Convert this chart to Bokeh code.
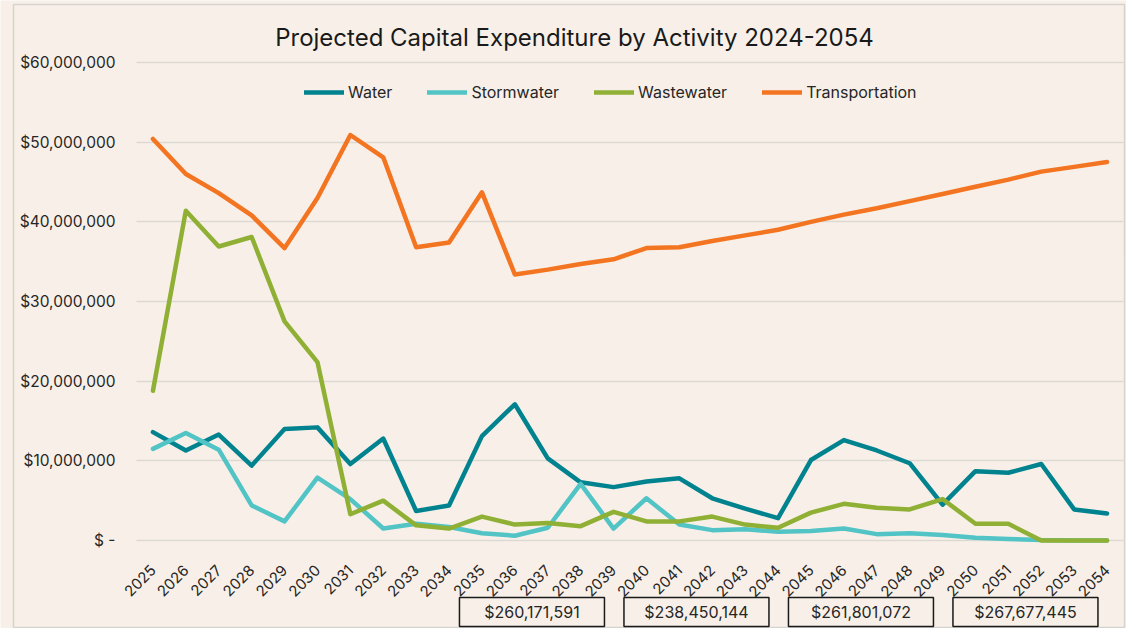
import math
from bokeh.plotting import figure
from bokeh.models import Range1d, FixedTicker, NumeralTickFormatter, Legend, LegendItem
from bokeh.core.properties import value
from bokeh.embed import file_html
from bokeh.resources import INLINE

# ---------------- data ----------------
years = [2025, 2026, 2027, 2028, 2029, 2030, 2031, 2032, 2033, 2034,
         2035, 2036, 2037, 2038, 2039, 2040, 2041, 2042, 2043, 2044,
         2045, 2046, 2047, 2048, 2049, 2050, 2051, 2052, 2053, 2054]

water = [13_600_000, 11_300_000, 13_300_000, 9_400_000, 14_000_000, 14_200_000, 9_600_000, 12_800_000, 3_700_000, 4_400_000,
         13_100_000, 17_100_000, 10_300_000, 7_300_000, 6_700_000, 7_400_000, 7_800_000, 5_300_000, 4_000_000, 2_800_000,
         10_100_000, 12_600_000, 11_300_000, 9_700_000, 4_500_000, 8_700_000, 8_500_000, 9_600_000, 3_900_000, 3_400_000]

stormwater = [11_500_000, 13_500_000, 11_400_000, 4_400_000, 2_400_000, 7_900_000, 5_200_000, 1_500_000, 2_100_000, 1_700_000,
              900_000, 600_000, 1_600_000, 7_100_000, 1_500_000, 5_300_000, 2_000_000, 1_300_000, 1_400_000, 1_100_000,
              1_200_000, 1_500_000, 800_000, 900_000, 700_000, 350_000, 200_000, 50_000, 0, 0]

wastewater = [18_800_000, 41_400_000, 36_900_000, 38_100_000, 27_500_000, 22_400_000, 3_300_000, 5_000_000, 1_900_000, 1_500_000,
              3_000_000, 2_000_000, 2_200_000, 1_800_000, 3_600_000, 2_400_000, 2_400_000, 3_000_000, 2_000_000, 1_600_000,
              3_500_000, 4_600_000, 4_100_000, 3_900_000, 5_200_000, 2_100_000, 2_100_000, 0, 0, 0]

transportation = [50_400_000, 46_000_000, 43_600_000, 40_800_000, 36_700_000, 43_000_000, 50_900_000, 48_100_000, 36_800_000, 37_400_000,
                  43_700_000, 33_400_000, 34_000_000, 34_700_000, 35_300_000, 36_700_000, 36_800_000, 37_600_000, 38_300_000, 39_000_000,
                  40_000_000, 40_900_000, 41_700_000, 42_600_000, 43_500_000, 44_400_000, 45_300_000, 46_300_000, 46_900_000, 47_500_000]

series_names = ["Water", "Stormwater", "Wastewater", "Transportation"]
series_colors = ["#00838F", "#52C4C5", "#8FB035", "#F37421"]

y_ticks = [0, 10_000_000, 20_000_000, 30_000_000, 40_000_000, 50_000_000, 60_000_000]

period_starts = [2035, 2040, 2045, 2050]
period_totals = ["$260,171,591", "$238,450,144", "$261,801,072", "$267,677,445"]

title_text = "Projected Capital Expenditure by Activity 2024-2054"

# ---------------- styling / layout ----------------
FONT = "Inter"
BG = "#F8F0E8"
TXT = "#262626"
W, H = 1126, 628
# plot-area edges in canvas pixels
PL, PR, PT, PB = 136, 1123, 62, 540

x0, x1 = years[0] - 0.5, years[-1] + 0.5
px_per_x = (PR - PL) / (x1 - x0)
px_per_y = (PB - PT) / (y_ticks[-1] - y_ticks[0])


def dx(cx):  # canvas x -> data x
    return x0 + (cx - PL) / px_per_x


def dy(cy):  # canvas y -> data y
    return y_ticks[0] + (PB - cy) / px_per_y


p = figure(width=W, height=H, output_backend="svg", toolbar_location=None,
           x_range=Range1d(dx(0), dx(W)), y_range=Range1d(dy(H), dy(0)),
           min_border=0, background_fill_color=BG, border_fill_color=BG)
p.outline_line_color = None

# outer chart border
p.rect(x=[dx((13 + W - 2) / 2)], y=[dy((4 + H - 1) / 2)], width=W - 2 - 13, height=H - 1 - 4,
       width_units="screen", height_units="screen", fill_alpha=0,
       line_color="#D6D3CF", line_width=1.5)

renderers = []
for vals, col in zip([water, stormwater, wastewater, transportation], series_colors):
    r = p.line(years, vals, line_color=col, line_width=4.5, line_join="round", line_cap="round")
    renderers.append(r)

# axes (fixed inside the full-canvas frame)
p.yaxis.fixed_location = x0
p.yaxis.ticker = FixedTicker(ticks=y_ticks)
p.yaxis.formatter = NumeralTickFormatter(format="$0,0")
p.yaxis.major_label_overrides = {0: "$ -"}
p.yaxis.axis_line_color = None
p.yaxis.major_tick_line_color = None
p.yaxis.minor_tick_line_color = None
p.yaxis.major_tick_out = 0
p.yaxis.major_label_standoff = 21
p.yaxis.major_label_text_font = FONT
p.yaxis.major_label_text_font_size = "15.5px"
p.yaxis.major_label_text_color = TXT

p.xaxis.fixed_location = y_ticks[0]
p.xaxis.ticker = FixedTicker(ticks=years)
p.xaxis.major_label_overrides = {y: str(y) for y in years}
p.xaxis.axis_line_color = None
p.xaxis.major_tick_line_color = None
p.xaxis.minor_tick_line_color = None
p.xaxis.major_tick_out = 0
p.xaxis.major_label_orientation = math.pi / 4
p.xaxis.major_label_standoff = 27
p.xaxis.major_label_text_font = FONT
p.xaxis.major_label_text_font_size = "15px"
p.xaxis.major_label_text_color = TXT

p.xgrid.visible = False
p.ygrid.grid_line_color = "#DCD9D5"
p.ygrid.grid_line_width = 1.5
p.ygrid.cross_bounds = (x0, x1)

# legend
legend = Legend(items=[LegendItem(label=n, renderers=[r]) for n, r in zip(series_names, renderers)],
                orientation="horizontal", location=(304, H - 102),
                background_fill_alpha=0, border_line_color=None,
                glyph_width=40, glyph_height=20, label_height=20, label_standoff=4,
                spacing=35, padding=0, margin=0,
                label_text_font=FONT, label_text_font_size="16px", label_text_color=TXT)
p.add_layout(legend, "center")

# title
p.text(x=[dx(574)], y=[dy(37)], text=[title_text], text_align="center", text_baseline="middle",
       text_font=value(FONT), text_font_size="24px", text_color="#1A1A1A")

# period totals boxes
box_x = [start + 2 - 0.48 for start in period_starts]
box_y = [dy(611.5)] * len(period_starts)
p.rect(x=box_x, y=box_y, width=145, height=29, width_units="screen", height_units="screen",
       fill_color=BG, line_color="#1A1A1A", line_width=1.5)
p.text(x=box_x, y=box_y, text=period_totals, text_align="center", text_baseline="middle",
       text_font=value(FONT), text_font_size="16px", text_color=TXT)

open("out.html", "w").write(file_html(p, INLINE))
